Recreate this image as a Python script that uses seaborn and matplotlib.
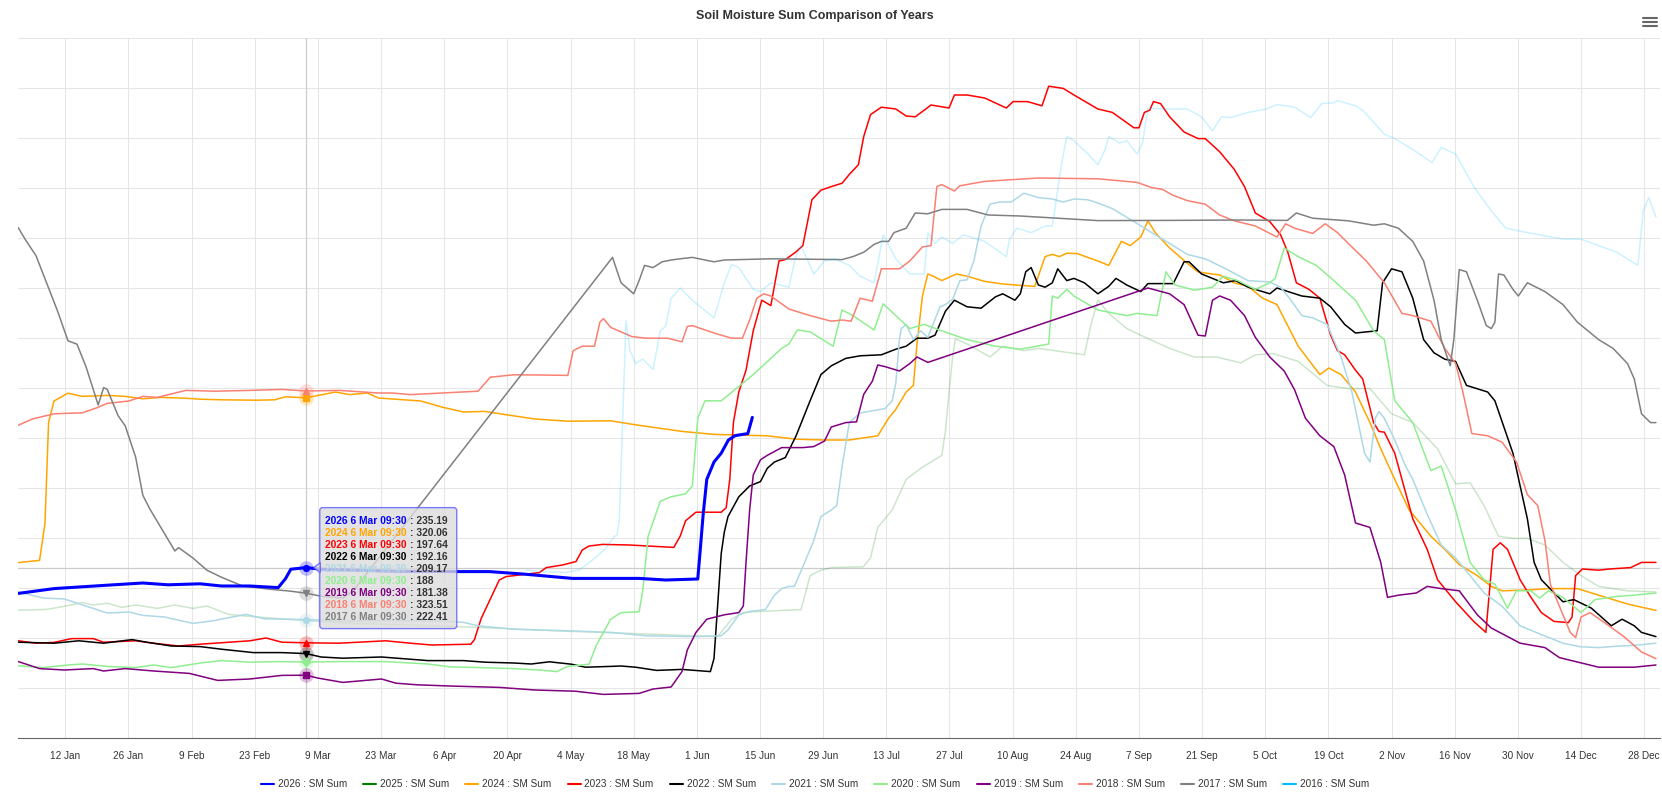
import numpy as np
import seaborn as sns
import matplotlib.pyplot as plt
from matplotlib.lines import Line2D
from matplotlib.patches import FancyBboxPatch, Polygon
from matplotlib.transforms import IdentityTransform

# ---- data (day of year, soil moisture sum) ----
years = ["2026", "2025", "2024", "2023", "2022", "2021", "2020", "2019", "2018", "2017", "2016"]
colors = ["blue", "green", "orange", "red", "black", "lightblue", "lightgreen",
          "purple", "salmon", "gray", "deepskyblue"]

sm_2026 = [(0.6, 222.3), (8.5, 224.7), (20.3, 226.4), (28.2, 227.5), (33.8, 226.6), (40.9, 227.1),
           (45.6, 226.0), (51.9, 226.0), (58.2, 225.2), (59.8, 229.6), (61.0, 234.4), (64.4, 235.2),
           (67.7, 234.4), (83.5, 233.4), (97.6, 233.2), (105.0, 233.2), (112.4, 232.0), (123.4, 229.8),
           (138.2, 229.8), (144.1, 229.0), (151.2, 229.5), (151.6, 240.0), (152.4, 261.8), (153.2, 279.3),
           (154.8, 288.0), (156.4, 292.4), (158.0, 299.0), (159.5, 301.2), (162.3, 302.2), (163.3, 310.3)]

sm_2025 = [(0.6, 213.9), (6.9, 214.3), (12.4, 216.5), (14.8, 217.7), (17.2, 216.5), (20.3, 217.4),
           (23.5, 215.3), (26.6, 216.5), (31.4, 214.8), (35.3, 216.5), (39.3, 214.8), (42.4, 216.0),
           (47.2, 211.8), (51.9, 210.8), (64.4, 208.7), (75.6, 207.3), (99.3, 205.6), (120.5, 203.5),
           (140.0, 202.0), (155.6, 200.7), (158.7, 209.4), (161.1, 212.7), (165.1, 213.3), (174.1, 214.2),
           (176.1, 231.2), (178.5, 233.9), (180.8, 235.2), (187.9, 235.6), (189.5, 240.0), (191.1, 255.3),
           (194.3, 264.0), (197.4, 279.3), (200.6, 284.8), (202.9, 288.0), (205.3, 291.3), (206.1, 303.3),
           (206.9, 323.0), (207.7, 340.5), (208.3, 349.6), (210.9, 347.0), (216.0, 340.5), (218.8, 345.9),
           (223.5, 343.7), (226.7, 344.8), (236.9, 341.6), (238.5, 357.9), (239.9, 368.9), (242.3, 362.3),
           (246.3, 354.7), (249.4, 351.4), (255.8, 344.8), (261.3, 340.5), (266.1, 340.5), (271.6, 337.6),
           (274.8, 341.6), (278.8, 342.2), (284.3, 338.3), (290.7, 326.3), (295.4, 324.7), (300.2, 324.7),
           (305.0, 312.1), (309.7, 307.7), (315.2, 294.6), (319.2, 277.1), (322.4, 277.6), (325.5, 266.2),
           (328.7, 250.9), (331.9, 249.8), (335.1, 249.8), (339.0, 246.5), (343.0, 237.8), (347.0, 231.2),
           (350.9, 225.8), (357.3, 223.6), (363.6, 223.0)]

sm_2024 = [(0.6, 237.7), (5.3, 238.8), (6.5, 257.4), (7.3, 307.8), (8.5, 318.5), (11.6, 322.4),
           (14.8, 320.8), (20.3, 321.3), (24.3, 320.8), (28.2, 319.6), (32.2, 320.3), (37.7, 319.9),
           (40.9, 319.4), (45.6, 319.1), (53.5, 318.9), (57.4, 319.1), (59.8, 320.6), (64.4, 320.1),
           (70.9, 323.0), (74.0, 321.7), (78.0, 322.5), (80.4, 320.0), (89.8, 318.5), (94.6, 315.4),
           (99.3, 313.0), (104.0, 313.3), (108.8, 311.6), (115.1, 309.5), (122.4, 308.4), (131.9, 308.6),
           (137.4, 306.6), (147.7, 303.3), (154.8, 301.8), (166.6, 301.1), (173.0, 299.4), (179.3, 299.0),
           (184.8, 299.0), (191.1, 301.1), (193.5, 309.9), (195.1, 314.3), (197.4, 323.0), (199.0, 326.3),
           (199.8, 347.0), (201.0, 371.0), (202.2, 382.0), (203.4, 380.9), (205.3, 378.7), (208.5, 382.0),
           (210.9, 380.9), (214.8, 378.3), (218.8, 377.0), (225.9, 375.8), (228.2, 390.7), (229.8, 391.8),
           (231.4, 390.7), (233.0, 392.4), (235.3, 392.2), (239.9, 388.5), (242.3, 386.3), (245.1, 398.3),
           (247.1, 396.2), (249.4, 400.5), (251.0, 408.6), (252.6, 402.7), (255.8, 395.0), (259.7, 387.4),
           (262.1, 383.0), (266.9, 381.5), (270.1, 377.6), (273.2, 375.8), (276.4, 369.9), (279.6, 366.7),
           (284.3, 345.9), (289.1, 331.7), (291.1, 335.0), (293.8, 331.7), (297.0, 323.0), (300.2, 307.7),
           (302.6, 294.6), (305.7, 279.3), (308.9, 264.0), (313.7, 250.9), (316.8, 244.3), (320.0, 236.7),
           (324.0, 231.2), (327.1, 225.8), (329.5, 223.6), (335.1, 224.0), (339.8, 224.7), (346.2, 224.7),
           (350.9, 221.4), (357.3, 217.0), (363.6, 213.8)]

sm_2023 = [(0.6, 198.6), (4.5, 197.4), (8.5, 197.8), (12.4, 199.7), (17.2, 199.7), (19.5, 197.9),
           (26.6, 198.6), (30.6, 197.4), (36.1, 196.0), (40.9, 196.9), (47.2, 197.9), (51.9, 198.6),
           (55.5, 200.0), (59.0, 197.9), (64.4, 197.6), (71.7, 197.4), (82.0, 198.6), (87.5, 197.4),
           (92.2, 196.5), (100.9, 196.9), (101.7, 199.2), (103.2, 209.8), (107.2, 229.0), (108.7, 230.7),
           (116.1, 232.7), (117.6, 235.2), (121.2, 236.5), (124.2, 238.2), (125.6, 244.0), (127.1, 246.0),
           (130.1, 246.8), (136.0, 246.5), (145.9, 245.3), (147.3, 250.9), (148.5, 258.6), (150.8, 262.9),
           (156.4, 262.9), (157.5, 265.1), (158.3, 279.3), (159.1, 307.7), (160.3, 323.0), (161.9, 333.9),
           (163.5, 353.6), (164.3, 360.1), (165.4, 368.9), (167.4, 366.2), (169.2, 388.5), (170.6, 389.2),
           (172.9, 392.9), (174.5, 396.2), (176.5, 419.1), (178.5, 423.9), (180.8, 425.7), (183.2, 427.4),
           (184.8, 431.8), (186.8, 436.6), (188.0, 450.8), (189.5, 461.7), (191.9, 465.4), (195.1, 464.5),
           (197.4, 461.0), (199.4, 460.6), (201.4, 463.9), (202.9, 466.5), (206.9, 465.0), (208.1, 471.5),
           (210.9, 471.5), (214.8, 470.0), (219.6, 465.0), (221.1, 468.2), (224.3, 468.2), (227.5, 466.1),
           (229.0, 475.9), (232.2, 474.8), (234.6, 471.5), (239.9, 464.5), (243.1, 462.8), (247.9, 455.1),
           (249.0, 455.1), (250.2, 462.8), (251.4, 463.9), (252.2, 468.2), (253.8, 467.2), (255.8, 460.6),
           (259.0, 453.0), (262.1, 449.7), (263.7, 449.7), (266.9, 443.1), (270.1, 434.4), (272.4, 425.7),
           (274.8, 412.5), (278.0, 408.2), (280.4, 401.6), (282.0, 392.9), (283.9, 377.6), (286.7, 374.3),
           (289.1, 369.9), (291.5, 351.4), (293.0, 343.7), (294.6, 341.6), (297.0, 333.9), (298.6, 329.5),
           (301.0, 307.7), (302.2, 303.3), (303.4, 302.9), (305.7, 292.4), (309.7, 259.6), (312.9, 244.3),
           (315.2, 229.1), (319.2, 218.1), (323.2, 208.3), (325.9, 202.8), (327.5, 244.3), (329.1, 247.6),
           (330.7, 244.3), (333.5, 229.1), (335.9, 220.3), (338.2, 212.7), (341.0, 208.3), (344.2, 207.7),
           (345.0, 210.5), (345.8, 231.2), (347.3, 234.5), (350.9, 233.9), (353.3, 234.5), (358.0, 235.2),
           (360.4, 237.8), (363.6, 237.8)]

sm_2022 = [(0.6, 197.9), (8.5, 197.4), (14.0, 198.6), (19.5, 197.4), (25.8, 199.2), (29.0, 197.9),
           (34.5, 196.0), (40.9, 195.7), (45.6, 194.4), (52.7, 192.7), (59.0, 192.7), (64.4, 192.2),
           (67.7, 190.5), (72.5, 189.9), (81.1, 190.5), (91.4, 188.7), (99.3, 188.7), (104.1, 187.9),
           (110.4, 187.5), (114.3, 187.0), (118.3, 188.1), (123.2, 186.9), (126.3, 185.4), (131.9, 185.8),
           (134.2, 186.0), (137.4, 185.4), (142.1, 183.8), (147.7, 184.3), (154.0, 183.2), (154.8, 189.7),
           (155.6, 215.9), (156.4, 242.2), (157.1, 253.1), (157.9, 260.7), (160.3, 270.6), (162.7, 276.0),
           (165.1, 278.2), (166.6, 284.8), (168.2, 288.0), (170.6, 290.2), (173.0, 301.1), (176.1, 318.6),
           (178.5, 331.7), (180.8, 336.1), (184.0, 339.8), (187.2, 341.1), (191.9, 341.6), (195.1, 344.4),
           (197.4, 345.9), (199.8, 349.9), (202.2, 349.9), (203.8, 351.4), (206.1, 363.4), (208.1, 368.9),
           (210.9, 365.6), (214.0, 364.9), (217.2, 370.6), (218.8, 372.1), (221.5, 368.9), (222.7, 372.1),
           (223.9, 383.1), (225.1, 385.2), (226.7, 376.5), (228.2, 375.4), (229.8, 377.6), (231.0, 384.6),
           (233.0, 378.7), (234.6, 379.8), (236.9, 377.6), (239.9, 372.1), (242.3, 375.8), (243.9, 379.8),
           (246.3, 376.5), (249.4, 373.2), (251.0, 377.2), (256.6, 377.2), (259.0, 388.1), (260.1, 388.1),
           (262.9, 382.0), (267.7, 377.6), (270.4, 378.7), (273.2, 375.4), (278.0, 372.1), (279.6, 375.0),
           (285.1, 371.0), (289.1, 369.9), (291.5, 365.6), (294.6, 356.8), (297.0, 352.5), (301.8, 353.6),
           (303.0, 377.6), (305.0, 384.6), (307.3, 383.1), (309.7, 369.9), (312.1, 349.2), (314.4, 342.6),
           (316.8, 339.4), (319.2, 338.3), (321.6, 326.3), (326.3, 323.0), (327.9, 318.6), (331.9, 292.4),
           (335.1, 259.6), (336.6, 237.8), (338.2, 229.1), (340.6, 223.6), (343.0, 218.1), (345.4, 219.2),
           (349.3, 214.9), (353.7, 206.1), (356.1, 209.4), (358.8, 206.1), (360.4, 202.8), (363.6, 200.7)]

sm_2021 = [(0.6, 223.0), (6.1, 220.0), (10.8, 219.5), (17.2, 214.8), (20.3, 212.5), (25.1, 213.0),
           (28.2, 211.3), (33.0, 210.5), (39.3, 207.3), (44.0, 208.7), (48.0, 210.5), (51.1, 211.8),
           (55.1, 209.6), (64.4, 209.2), (71.7, 208.4), (83.5, 208.7), (95.4, 208.4), (99.3, 207.8),
           (102.5, 206.1), (110.4, 204.4), (116.0, 204.0), (124.0, 203.5), (131.9, 202.8), (139.8, 201.1),
           (150.8, 200.7), (156.4, 201.1), (157.9, 204.0), (160.3, 211.6), (162.7, 213.3), (166.2, 214.2),
           (168.2, 221.4), (169.8, 224.7), (171.4, 225.8), (172.6, 225.8), (174.5, 235.6), (176.9, 248.7),
           (178.5, 260.7), (180.8, 264.0), (182.0, 266.2), (183.2, 285.9), (184.8, 307.7), (187.2, 312.5),
           (192.7, 314.7), (194.3, 318.6), (195.1, 327.4), (195.9, 349.2), (196.3, 354.7), (197.4, 356.8),
           (199.0, 349.2), (200.6, 353.6), (202.2, 350.3), (204.9, 365.6), (206.1, 366.7), (207.7, 369.3),
           (209.3, 378.7), (210.9, 379.1), (212.4, 388.5), (214.0, 406.0), (216.0, 416.9), (218.0, 418.0),
           (220.7, 418.0), (223.5, 422.4), (226.7, 420.2), (229.8, 419.5), (232.2, 418.0), (234.6, 419.5),
           (237.7, 419.1), (239.9, 417.5), (243.1, 414.7), (247.9, 408.2), (251.8, 402.7), (255.8, 397.3),
           (259.7, 391.8), (263.7, 389.6), (267.7, 385.2), (273.2, 378.7), (278.0, 378.0), (280.4, 375.4),
           (282.7, 368.9), (285.1, 361.2), (287.5, 360.1), (290.7, 356.8), (293.8, 340.5), (296.2, 323.0),
           (299.0, 292.4), (300.2, 288.0), (301.4, 309.9), (302.2, 313.2), (303.4, 309.9), (305.7, 299.0),
           (308.1, 285.9), (309.7, 279.3), (312.9, 261.8), (316.0, 246.5), (319.2, 240.0), (322.4, 231.2),
           (325.5, 222.5), (329.5, 215.9), (333.5, 206.1), (338.2, 201.7), (343.0, 197.4), (346.9, 195.6),
           (350.9, 195.2), (354.9, 195.9), (358.8, 196.3), (363.6, 197.4)]

sm_2020 = [(0.6, 186.1), (6.1, 185.2), (11.6, 186.5), (14.8, 187.0), (20.3, 185.8), (26.6, 185.2),
           (30.6, 186.5), (34.5, 185.2), (40.9, 187.5), (45.6, 188.7), (51.9, 187.9), (58.2, 188.2),
           (64.4, 188.0), (71.7, 188.2), (82.0, 188.2), (91.4, 187.0), (96.2, 185.6), (103.3, 185.2),
           (110.4, 184.7), (116.0, 184.0), (120.0, 183.2), (122.4, 185.8), (127.1, 186.9), (128.7, 196.3),
           (131.9, 209.4), (134.2, 212.7), (138.2, 213.1), (139.0, 223.6), (140.2, 250.9), (142.9, 268.4),
           (145.3, 270.6), (148.5, 272.1), (150.0, 276.0), (151.2, 309.9), (152.8, 318.6), (156.4, 318.6),
           (163.5, 331.7), (169.8, 344.8), (171.4, 347.0), (173.3, 354.0), (176.1, 353.1), (181.2, 345.9),
           (183.2, 364.0), (185.6, 361.2), (190.3, 354.0), (192.3, 367.1), (195.1, 361.2), (198.2, 354.7),
           (201.4, 356.8), (205.3, 353.6), (210.9, 349.2), (217.2, 345.9), (222.7, 344.4), (229.0, 347.0),
           (229.8, 371.0), (231.0, 369.9), (233.0, 374.3), (234.6, 371.0), (239.9, 364.0), (246.3, 361.2),
           (248.6, 362.3), (253.0, 361.2), (255.0, 383.1), (257.0, 376.5), (261.3, 373.9), (265.3, 375.4),
           (267.7, 380.9), (270.9, 378.7), (274.8, 374.3), (278.0, 377.6), (279.2, 379.8), (281.2, 395.0),
           (284.3, 390.7), (288.3, 386.3), (292.2, 378.7), (297.0, 368.9), (301.0, 353.6), (303.4, 349.2),
           (305.7, 318.6), (307.3, 314.3), (309.7, 307.7), (313.7, 283.7), (316.0, 285.9), (319.2, 264.0),
           (322.4, 237.8), (325.5, 229.1), (327.9, 226.9), (330.7, 214.9), (332.7, 223.6), (335.9, 223.6),
           (337.8, 219.9), (339.8, 223.6), (343.0, 220.3), (347.0, 212.7), (350.1, 219.2), (354.9, 220.8),
           (358.8, 221.4), (363.6, 222.5)]

sm_2019 = [(0.6, 188.2), (5.3, 184.7), (10.8, 184.0), (17.2, 184.7), (19.5, 183.5), (24.3, 184.7),
           (30.6, 183.5), (38.5, 182.3), (44.8, 178.8), (51.9, 179.5), (59.0, 181.3), (64.4, 181.4),
           (66.9, 180.0), (72.5, 177.8), (81.1, 179.5), (84.3, 177.4), (89.0, 176.6), (96.2, 176.0),
           (107.2, 175.3), (115.1, 174.0), (124.0, 173.4), (130.3, 171.8), (138.2, 172.3), (141.3, 174.5),
           (145.3, 175.5), (147.7, 183.2), (148.9, 194.1), (150.8, 202.8), (153.2, 209.4), (157.1, 211.6),
           (160.3, 212.7), (161.3, 216.0), (161.9, 237.8), (162.7, 264.0), (163.5, 281.5), (165.1, 289.1),
           (166.6, 291.3), (169.8, 295.2), (174.5, 295.2), (176.9, 295.7), (179.3, 298.5), (180.8, 305.5),
           (184.0, 307.7), (186.4, 308.1), (188.0, 321.9), (189.9, 328.4), (191.1, 336.5), (192.7, 335.7),
           (195.9, 333.5), (198.2, 337.2), (199.8, 340.5), (202.2, 337.8), (251.0, 375.0), (255.8, 372.1),
           (259.0, 366.7), (262.1, 351.4), (263.7, 351.0), (265.3, 368.9), (266.9, 371.0), (269.3, 368.9),
           (272.4, 361.2), (274.8, 350.3), (278.0, 340.5), (281.2, 333.5), (283.5, 324.1), (285.9, 309.9),
           (289.1, 301.1), (292.2, 295.7), (294.6, 281.5), (297.0, 257.5), (300.2, 255.3), (302.6, 237.8),
           (304.1, 220.3), (306.5, 221.4), (310.5, 222.5), (312.9, 225.8), (316.0, 224.7), (320.0, 223.6),
           (324.0, 211.6), (327.1, 205.0), (333.5, 197.4), (339.0, 195.2), (342.2, 190.2), (350.9, 185.4),
           (358.8, 185.4), (363.6, 186.5)]

sm_2018 = [(0.6, 306.4), (3.7, 309.5), (8.5, 312.1), (14.8, 312.6), (18.0, 315.1), (20.3, 317.3),
           (25.1, 318.5), (28.2, 320.8), (31.4, 320.3), (37.7, 323.8), (44.0, 323.4), (51.9, 323.8),
           (59.0, 324.3), (64.4, 323.5), (71.7, 323.8), (80.4, 322.5), (83.5, 322.5), (87.5, 321.7),
           (102.5, 323.4), (105.2, 330.4), (110.4, 331.6), (116.0, 331.5), (122.4, 331.3), (123.6, 343.7),
           (125.6, 345.9), (128.3, 345.9), (129.5, 357.9), (130.3, 359.7), (131.9, 355.3), (136.6, 350.7),
           (139.8, 349.9), (144.5, 349.9), (147.7, 348.1), (148.9, 355.8), (150.0, 356.2), (154.8, 352.5),
           (158.7, 349.9), (161.1, 349.9), (162.7, 359.0), (164.3, 369.9), (165.8, 372.1), (167.4, 371.0),
           (171.4, 364.5), (176.1, 361.2), (180.8, 358.4), (183.2, 359.0), (185.2, 358.4), (187.2, 369.9),
           (189.9, 368.4), (191.9, 384.6), (195.9, 384.6), (198.2, 388.5), (201.0, 395.5), (202.9, 396.2),
           (204.2, 425.7), (205.3, 426.7), (208.1, 423.5), (209.3, 426.1), (214.8, 428.3), (226.7, 430.0),
           (239.9, 429.6), (248.6, 427.8), (251.8, 425.2), (254.2, 424.3), (256.6, 421.3), (259.7, 418.7),
           (263.7, 416.9), (266.9, 411.5), (270.1, 408.6), (274.8, 406.0), (279.6, 400.5), (281.5, 407.1),
           (283.5, 404.9), (287.5, 402.3), (290.3, 407.1), (293.0, 402.7), (295.4, 397.3), (299.4, 388.5),
           (303.4, 377.6), (307.3, 362.3), (309.7, 361.2), (313.7, 358.4), (316.8, 344.8), (319.2, 337.2),
           (320.8, 323.0), (322.8, 302.2), (326.3, 301.1), (329.5, 297.9), (332.7, 288.0), (335.1, 271.7),
           (337.4, 266.2), (339.0, 248.7), (340.2, 226.9), (342.2, 215.9), (344.6, 202.8), (345.8, 200.2),
           (347.0, 210.5), (349.0, 212.7), (352.5, 207.2), (356.5, 200.7), (360.4, 193.0), (363.6, 189.7)]

sm_2017 = [(0.6, 405.1), (2.2, 399.0), (4.5, 391.2), (6.9, 377.3), (9.3, 363.4), (11.6, 348.6),
           (13.6, 346.9), (15.6, 335.6), (18.3, 316.5), (19.5, 325.2), (20.3, 324.3), (22.7, 311.2),
           (24.3, 306.0), (26.6, 290.4), (28.2, 271.3), (29.8, 264.3), (33.0, 252.2), (35.3, 243.5),
           (36.1, 245.2), (39.3, 240.0), (42.4, 233.9), (45.6, 230.4), (50.3, 226.0), (56.7, 224.3),
           (60.6, 223.5), (64.4, 222.4), (67.7, 220.9), (72.5, 220.0), (74.8, 223.5), (132.3, 390.3),
           (134.2, 377.6), (137.0, 372.1), (138.2, 378.7), (139.4, 386.3), (141.3, 385.2), (143.3, 388.1),
           (145.3, 389.0), (147.3, 389.6), (150.0, 390.3), (154.8, 388.1), (157.1, 389.0), (167.4, 389.6),
           (183.2, 389.2), (185.6, 390.7), (188.0, 392.9), (190.3, 396.8), (191.9, 398.3), (193.5, 398.3),
           (194.7, 402.7), (197.4, 404.9), (199.4, 412.5), (202.2, 412.1), (205.3, 414.3), (210.9, 414.3),
           (215.6, 411.5), (222.7, 411.0), (239.9, 408.7), (255.8, 408.8), (271.6, 409.0), (281.9, 408.8),
           (283.9, 412.5), (287.5, 409.9), (295.4, 408.6), (301.0, 406.4), (303.4, 407.1), (306.5, 404.9),
           (309.7, 398.3), (312.1, 388.5), (314.4, 368.9), (316.0, 349.2), (318.0, 336.1), (318.8, 349.2),
           (320.0, 384.2), (321.6, 383.1), (324.0, 368.9), (326.0, 356.2), (327.1, 354.7), (327.9, 357.9),
           (328.7, 382.0), (329.9, 381.5), (331.9, 374.3), (333.1, 371.0), (335.1, 377.6), (339.0, 373.2),
           (343.0, 366.7), (346.2, 357.9), (350.9, 349.2), (354.1, 344.8), (357.3, 337.2), (358.8, 329.5),
           (360.4, 312.1), (362.4, 307.7), (363.6, 307.7)]

sm_2016 = [(113.1, 234.0), (116.1, 233.2), (122.0, 232.8), (124.9, 234.0), (127.9, 239.0), (130.8, 244.8),
           (132.7, 250.7), (133.3, 251.5), (133.8, 259.0), (135.3, 358.6), (136.2, 343.7), (137.4, 337.2),
           (139.0, 339.4), (141.3, 334.3), (142.9, 353.6), (144.1, 355.8), (145.3, 369.9), (147.3, 375.0),
           (150.0, 368.9), (152.4, 364.5), (154.8, 360.1), (157.1, 377.6), (158.7, 386.8), (160.3, 385.2),
           (163.5, 374.3), (165.1, 373.2), (167.4, 377.6), (171.4, 375.4), (172.9, 390.7), (174.1, 396.2),
           (176.9, 382.0), (179.3, 388.5), (181.6, 389.6), (184.8, 386.3), (187.2, 380.9), (190.3, 377.6),
           (192.3, 401.6), (195.1, 389.6), (198.2, 382.0), (201.4, 382.0), (202.2, 402.7), (203.8, 397.3),
           (205.3, 400.5), (207.7, 397.3), (210.1, 401.6), (214.8, 398.3), (219.6, 390.7), (220.3, 399.4),
           (221.9, 404.9), (225.1, 402.7), (228.2, 406.0), (229.8, 406.0), (231.8, 436.6), (233.0, 450.8),
           (234.6, 448.6), (237.7, 442.0), (239.9, 436.6), (241.5, 444.2), (242.3, 450.8), (244.7, 447.5),
           (246.3, 448.6), (248.6, 442.0), (249.8, 447.5), (251.0, 465.0), (254.2, 464.5), (259.7, 464.5),
           (262.9, 460.6), (265.3, 453.6), (267.3, 460.6), (269.3, 460.2), (273.2, 462.8), (277.2, 464.5),
           (279.6, 466.7), (283.5, 465.4), (287.1, 460.2), (289.5, 467.2), (292.2, 467.6), (293.0, 468.7),
           (297.0, 466.1), (298.6, 463.9), (303.4, 451.9), (305.7, 449.7), (309.7, 444.2), (314.0, 437.7),
           (316.0, 445.3), (319.2, 442.0), (323.2, 425.7), (327.1, 413.6), (330.3, 404.9), (335.1, 402.7),
           (343.0, 399.4), (347.0, 399.4), (350.9, 396.2), (354.9, 392.9), (359.6, 386.3), (360.8, 413.6),
           (362.0, 420.2), (363.6, 410.4)]

series = {"2026": sm_2026, "2025": sm_2025, "2024": sm_2024, "2023": sm_2023, "2022": sm_2022,
          "2021": sm_2021, "2020": sm_2020, "2019": sm_2019, "2018": sm_2018, "2017": sm_2017,
          "2016": sm_2016}
inactive = ["2025", "2016"]  # no point under the cursor -> drawn faded

# tooltip at 6 Mar 09:30
hover_day = 64 + 9.5 / 24
hover_label = "6 Mar 09:30"
hover_years = ["2026", "2024", "2023", "2022", "2021", "2020", "2019", "2018", "2017"]
hover_values = [235.19, 320.06, 197.64, 192.16, 209.17, 188, 181.38, 323.51, 222.41]

tick_days = [11 + 14 * i for i in range(26)]
tick_labels = ["12 Jan", "26 Jan", "9 Feb", "23 Feb", "9 Mar", "23 Mar", "6 Apr", "20 Apr",
               "4 May", "18 May", "1 Jun", "15 Jun", "29 Jun", "13 Jul", "27 Jul", "10 Aug",
               "24 Aug", "7 Sep", "21 Sep", "5 Oct", "19 Oct", "2 Nov", "16 Nov", "30 Nov",
               "14 Dec", "28 Dec"]

# ---- figure ----
sns.set_style("white")
plt.rcParams['font.family'] = ['Liberation Sans', 'DejaVu Sans']

W, H = 1662, 795
fig = plt.figure(figsize=(W / 100, H / 100), dpi=100)
fig.patch.set_facecolor("white")
L, R, T, B = 18, 1660, 38, 738
ax = fig.add_axes([L / W, 1 - B / H, (R - L) / W, (B - T) / H])

color_of = dict(zip(years, colors))
draw_order = [y for y in years if y != "2026"] + ["2026"]
for yr in draw_order:
    d, v = zip(*series[yr])
    sns.lineplot(x=list(d), y=list(v), ax=ax, color=color_of[yr],
                 linewidth=2.2 if yr == "2026" else 1.1,
                 alpha=0.2 if yr in inactive else 1.0,
                 estimator=None, sort=False, legend=False, zorder=3 if yr == "2026" else 2)

ax.set_xlim(0.52, 364.5)
ax.set_ylim(150, 500)
ax.set_yticks(np.arange(150, 501, 25))
ax.set_xticks(tick_days)
ax.set_xticklabels(tick_labels)
ax.grid(True, color="#e6e6e6", linewidth=0.75)
ax.set_axisbelow(True)
for s in ["top", "right", "left"]:
    ax.spines[s].set_visible(False)
ax.spines["bottom"].set_color("#666666")
ax.spines["bottom"].set_linewidth(0.8)
ax.tick_params(axis="y", left=False, labelleft=False)
ax.tick_params(axis="x", length=5.8, width=0.75, color="#666666", labelsize=7.2,
               labelcolor="#333333", pad=3.4)

# crosshairs
ax.axvline(hover_day, color="#cccccc", lw=0.9, zorder=1)
ax.axhline(hover_values[0], color="#cccccc", lw=0.9, zorder=1)

# hover markers with halos
symbols = ["o", "D", "s", "^", "v"]
for yr, val in zip(hover_years, hover_values):
    c = color_of[yr]
    m = symbols[years.index(yr) % 5]
    ax.plot([hover_day], [val], marker="o", ms=10.5, color=c, alpha=0.25, mec="none", zorder=4)
    ax.plot([hover_day], [val], marker=m, ms=4.2 if m != "D" else 3.8, color=c, mec=c, zorder=5)

# tooltip (pixel positions relative to the hovered point)
hx, hy = ax.transData.transform((hover_day, hover_values[0]))
box_l, box_b = hx + 13.6, hy - 61
box_w, box_h = 137, 121
ident = IdentityTransform()
tip = FancyBboxPatch((box_l, box_b), box_w, box_h, boxstyle="round,pad=0,rounding_size=3",
                     transform=ident, facecolor="#dcdcdc", edgecolor="#5a5aff", alpha=0.8,
                     linewidth=1.0, zorder=10)
fig.add_artist(tip)
fig.add_artist(Polygon([(box_l + 0.5, hy + 5), (box_l - 6, hy), (box_l + 0.5, hy - 5)],
                       closed=True, transform=ident, facecolor="#dcdcdc", edgecolor="#5a5aff",
                       linewidth=1.0, alpha=0.8, zorder=10))
for i, (yr, val) in enumerate(zip(hover_years, hover_values)):
    ty = box_b + box_h - 13 - 12 * i
    fig.text(box_l + 5.7, ty, f"{yr} {hover_label}", transform=ident, fontsize=7.4,
             fontweight="bold", color=color_of[yr], va="center", ha="left", zorder=11)
    fig.text(hx + 103.6, ty, f": {val:g}", transform=ident, fontsize=7.4,
             fontweight="bold", color="#333333", va="center", ha="left", zorder=11)

# title and menu icon
fig.text(815 / W, 1 - 16 / H, "Soil Moisture Sum Comparison of Years", ha="center", va="center",
         fontsize=9, fontweight="bold", color="#333333")
for yy in (18.3, 22.3, 26.3):
    fig.add_artist(Line2D([1643 / W, 1657 / W], [1 - yy / H] * 2, color="#666666", lw=1.5))

# legend
handles = [Line2D([], [], color=c, lw=1.5) for c in colors]
fig.legend(handles, [f"{y} : SM Sum" for y in years], loc="center",
           bbox_to_anchor=(815 / W, 1 - 784.3 / H), ncol=11, frameon=False, fontsize=7.2,
           handlelength=1.3, handletextpad=0.4, columnspacing=1.6, labelcolor="#333333")

fig.savefig("out.png", dpi=100)
